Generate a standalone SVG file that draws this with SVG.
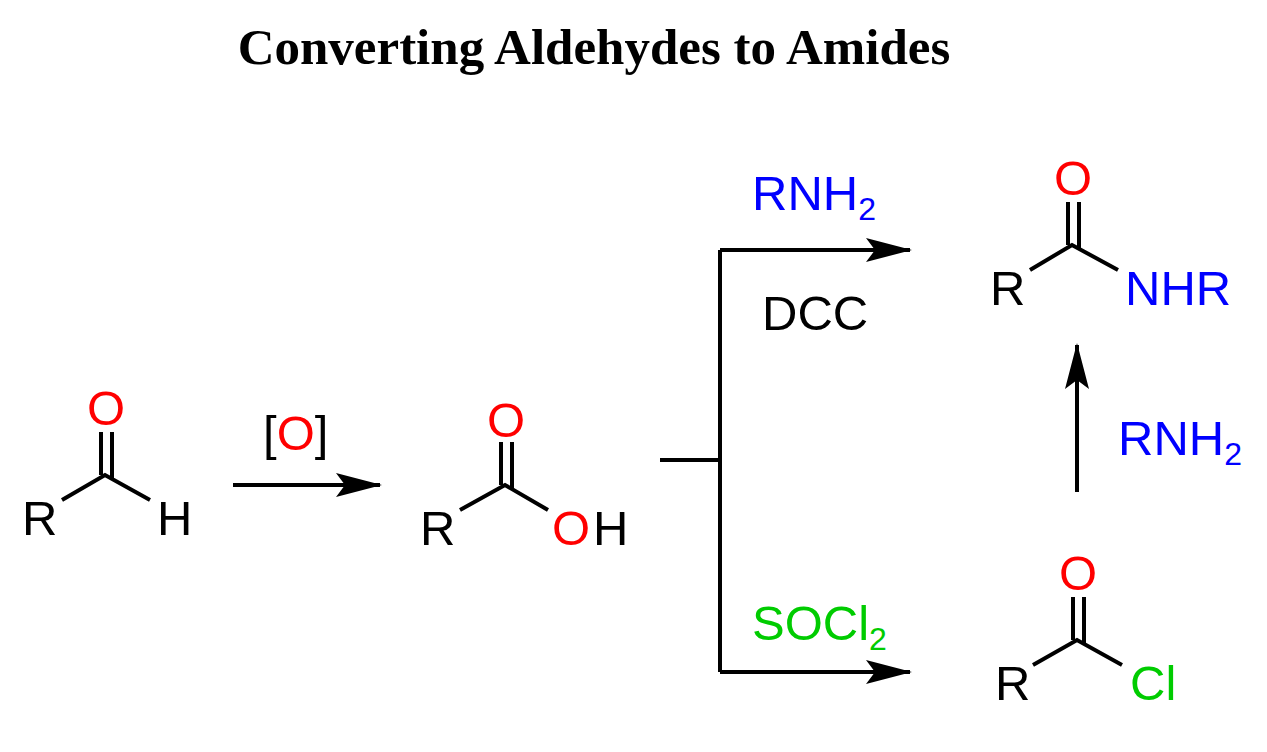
<svg xmlns="http://www.w3.org/2000/svg" width="1267" height="752" viewBox="0 0 1267 752">
<defs>
<style>
.t{font-family:"Liberation Sans",Arial,sans-serif;font-size:49px}
.s{font-size:32px}
.b{stroke:#000;stroke-width:4;fill:none}
.red{fill:#f00}.blue{fill:#00f}.green{fill:#0c0}
</style>
<marker id="ah" viewBox="0 0 46 24" refX="44" refY="12" markerWidth="46" markerHeight="24" markerUnits="userSpaceOnUse" orient="auto"><path d="M0,0 L46,12 L0,24 L9,12Z" fill="#000"/></marker>
</defs>
<rect width="1267" height="752" fill="#fff"/>
<text x="594" y="64" text-anchor="middle" font-family="Liberation Serif,serif" font-weight="bold" font-size="51">Converting Aldehydes to Amides</text>
<g id="aldehyde">
<path class="b" d="M62,500 L105,475 L150,500 M101,475 V432 M112,480 V432"/>
<text class="t" x="22" y="535">R</text><text class="t red" x="87" y="425">O</text><text class="t" x="157" y="535">H</text>
</g>
<g id="acid">
<path class="b" d="M460,510 L505,485 L548,510 M501,485 V442 M512,490 V442"/>
<text class="t" x="420" y="545">R</text><text class="t red" x="487" y="437">O</text><text class="t red" x="552" y="545">O</text><text class="t" x="593" y="545">H</text>
</g>
<g id="amide">
<path class="b" d="M1030,270 L1072,245 L1118,270 M1068,245 V202 M1079,250 V202"/>
<text class="t" x="990" y="305">R</text><text class="t red" x="1054" y="195">O</text><text class="t blue" x="1125" y="305">NHR</text>
</g>
<g id="acidchloride">
<path class="b" d="M1033,665 L1077,640 L1122,665 M1073,640 V597 M1084,645 V597"/>
<text class="t" x="995" y="700">R</text><text class="t red" x="1059" y="590">O</text><text class="t green" x="1130" y="700">Cl</text>
</g>
<g id="connectors">
<path class="b" d="M233,485 H380" marker-end="url(#ah)"/>
<path class="b" d="M660,460 H720 M720,250 V672"/>
<path class="b" d="M720,250 H910" marker-end="url(#ah)"/>
<path class="b" d="M720,672 H910" marker-end="url(#ah)"/>
<path class="b" d="M1077,492 V345" marker-end="url(#ah)"/>
</g>
<g id="labels">
<text class="t" x="263" y="450">[<tspan class="red">O</tspan>]</text>
<text class="t blue" x="752" y="210">RNH<tspan class="s" dy="10">2</tspan></text>
<text class="t" x="762" y="330">DCC</text>
<text class="t green" x="752" y="640">SOCl<tspan class="s" dy="10">2</tspan></text>
<text class="t blue" x="1118" y="455">RNH<tspan class="s" dy="10">2</tspan></text>
</g>
</svg>
